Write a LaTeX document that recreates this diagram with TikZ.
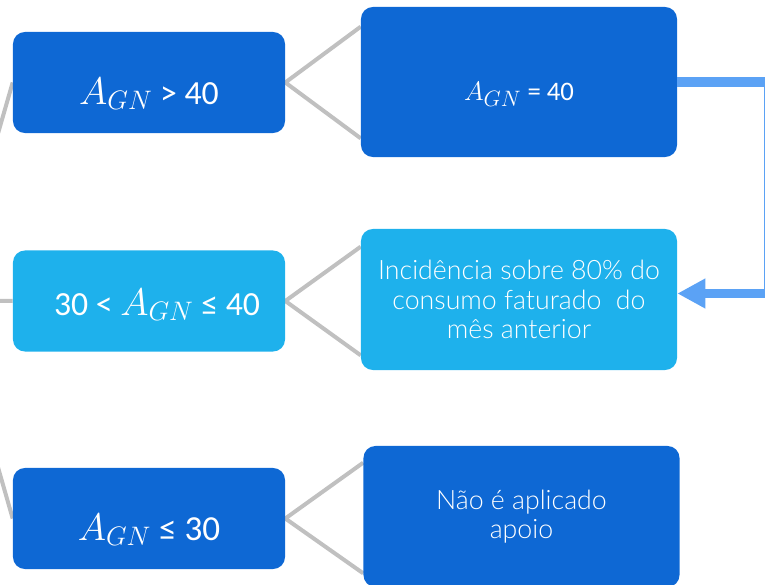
\documentclass[tikz,border=0pt]{standalone}
\usepackage{fontspec}
\setmainfont{Carlito}
\newfontfamily\lightfont{Lato Light}
\usetikzlibrary{arrows.meta,calc,backgrounds}
\definecolor{darkbox}{RGB}{14,104,212}
\definecolor{lightbox}{RGB}{30,177,236}
\definecolor{flowblue}{RGB}{91,162,245}
\definecolor{branchgray}{RGB}{192,192,192}
\newcommand{\agn}{\scalebox{1.1}{$A_{GN}$}}
\tikzset{
  cond/.style={rectangle,rounded corners=0.3cm,fill=darkbox,text=white,minimum width=6.8cm,minimum height=2.525cm,inner sep=0pt,text height=1.08cm,text depth=0pt,font=\fontsize{24}{28}\selectfont},
  result/.style={cond,minimum width=7.9cm,minimum height=3.525cm,align=center,text height=,text depth=,font=\lightfont\fontsize{19}{21}\selectfont},
  branch/.style={branchgray,line width=0.1cm},
  flow/.style={flowblue,line width=0.225cm,-{Triangle[length=0.7cm,width=0.7cm]}}
}
\begin{document}
\begin{tikzpicture}[x=0.025cm,y=-0.025cm]
  \useasboundingbox (0,0) rectangle (765,585);
  \coordinate (root) at (-50,300);
  \node[cond] (gt) at (149,82.5) {\agn{} > 40};
  \node[cond,fill=lightbox,text height=0.7cm] (mid) at (149,301) {\hspace{0.4cm}30 < \agn{} ≤ 40};
  \node[cond,font=\fontsize{25}{28}\selectfont] (le) at (149,518.5) {\agn{} ≤ 30};
  \node[cond,minimum width=7.9cm,minimum height=3.75cm,text height=0.9cm,font=\fontsize{19}{23}\selectfont] (eq) at (519,82) {\agn{} = 40};
  \node[result,fill=lightbox] (inc) at (519,299.5) {Incidência sobre 80\% do\\consumo faturado~~do\\mês anterior};
  \node[result] (nao) at (521.5,516.5) {Não é aplicado\\apoio};

  \begin{scope}[on background layer]
    \foreach \n in {gt,mid,le}
      \draw[branch] (root) -- (\n.west);
    \draw[branch] ($(eq.north west)+(0,20)$) -- (gt.east) -- ($(eq.south west)+(0,-19)$);
    \draw[branch] ($(inc.north west)+(0,18)$) -- (mid.east) -- ($(inc.south west)+(0,-15)$);
    \draw[branch] ($(nao.north west)+(0,17)$) -- (le.east) -- ($(nao.south west)+(0,-14)$);
  \end{scope}

  \draw[flow] (eq.east) -- ++(91,0) |- ($(inc.east)+(0,-6)$);
\end{tikzpicture}
\end{document}
